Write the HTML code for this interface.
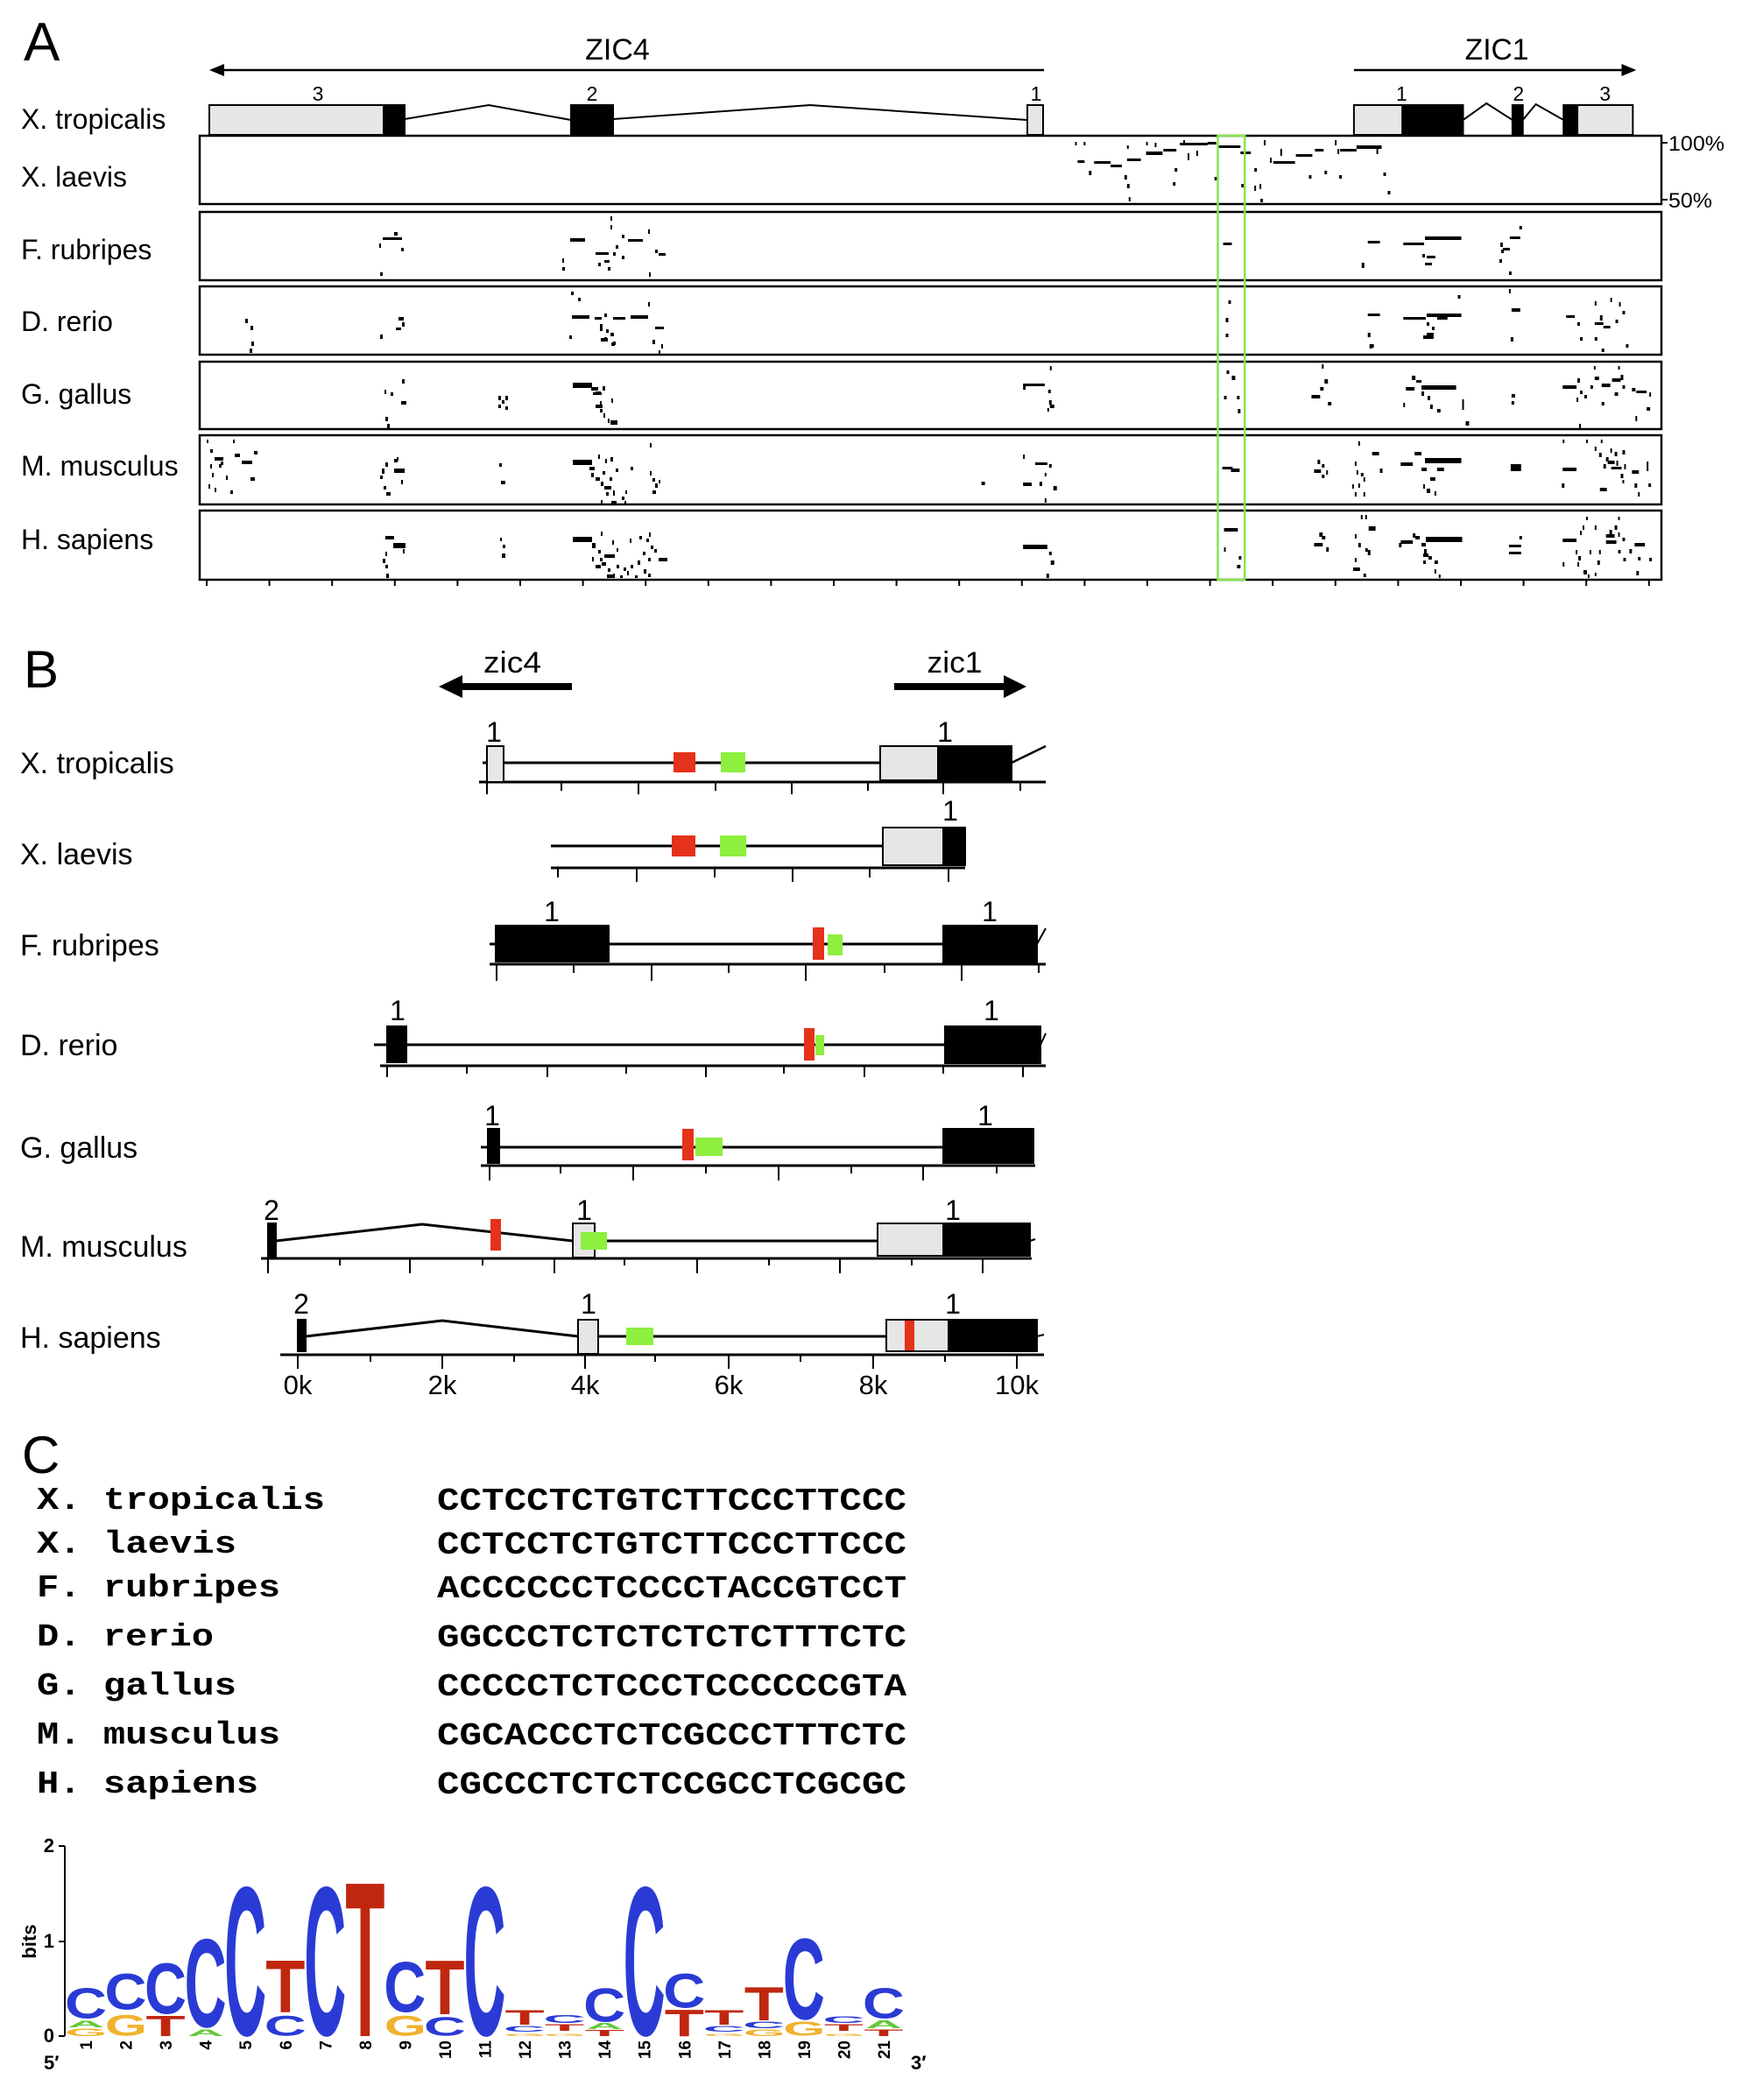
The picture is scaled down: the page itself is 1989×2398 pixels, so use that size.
<!DOCTYPE html>
<html><head><meta charset="utf-8"><style>
html,body{margin:0;padding:0;background:#fff;}
svg{display:block;}
text{font-family:"Liberation Sans",Arial,sans-serif;}
.mono text{font-family:"Liberation Mono","Courier New",monospace;font-weight:bold;}
.lg text{font-family:"Liberation Sans",Arial,sans-serif;font-weight:bold;font-size:100px;}
</style></head><body>
<svg width="1989" height="2398" viewBox="0 0 1989 2398" xmlns="http://www.w3.org/2000/svg">
<rect width="1989" height="2398" fill="#fff"/>

<!-- ================= PANEL A ================= -->
<text x="27" y="69" font-size="62">A</text>
<text x="705" y="68" font-size="34" text-anchor="middle">ZIC4</text>
<line x1="250" y1="80" x2="1192" y2="80" stroke="#000" stroke-width="2.5"/>
<polygon points="239,80 256,73 256,87" fill="#000"/>

<g font-size="23" text-anchor="middle">
<text x="363" y="115">3</text><text x="676" y="115">2</text><text x="1183" y="115">1</text>
</g>
<g stroke="#000" stroke-width="2" fill="none">
<polyline points="462,136 558,120 652,137"/>
<polyline points="700,136 925,120 1173,137"/>
</g>
<g stroke="#000" stroke-width="2">
<rect x="239" y="120" width="199" height="34" fill="#e6e6e6"/>
<rect x="438" y="120" width="24" height="34" fill="#000"/>
<rect x="652" y="120" width="48" height="34" fill="#000"/>
<rect x="1173" y="120" width="18" height="34" fill="#e6e6e6"/>
</g>

<g transform="translate(11.04,0) scale(0.98896,1)">
<text x="1717" y="68" font-size="34" text-anchor="middle">ZIC1</text>
<line x1="1552" y1="80" x2="1866" y2="80" stroke="#000" stroke-width="2.5"/>
<polygon points="1878,80 1861,73 1861,87" fill="#000"/>
<g font-size="23" text-anchor="middle">
<text x="1607" y="115">1</text><text x="1742" y="115">2</text><text x="1842" y="115">3</text>
</g>
<g stroke="#000" stroke-width="2" fill="none">
<polyline points="1678,137 1705,118 1735,137"/>
<polyline points="1747,137 1762,119 1794,137"/>
</g>
<g stroke="#000" stroke-width="2">
<rect x="1552" y="120" width="56" height="34" fill="#e6e6e6"/>
<rect x="1608" y="120" width="70" height="34" fill="#000"/>
<rect x="1735" y="120" width="12" height="34" fill="#000"/>
<rect x="1794" y="120" width="16" height="34" fill="#000"/>
<rect x="1810" y="120" width="64" height="34" fill="#e6e6e6"/>
</g>
</g>

<g font-size="32">
<text x="24" y="147">X. tropicalis</text>
<text x="24" y="213">X. laevis</text>
<text x="24" y="296">F. rubripes</text>
<text x="24" y="378">D. rerio</text>
<text x="24" y="461">G. gallus</text>
<text x="24" y="543">M. musculus</text>
<text x="24" y="627">H. sapiens</text>
</g>

<g fill="none" stroke="#000" stroke-width="2.5">
<rect x="228" y="155" width="1669" height="78"/>
<rect x="228" y="242" width="1669" height="78"/>
<rect x="228" y="327" width="1669" height="78"/>
<rect x="228" y="413" width="1669" height="77"/>
<rect x="228" y="497" width="1669" height="79"/>
<rect x="228" y="583" width="1669" height="79"/>
</g>
<g stroke="#000" stroke-width="2">
<line x1="1897" y1="163" x2="1904" y2="163"/>
<line x1="1897" y1="228" x2="1904" y2="228"/>
</g>
<text x="1905" y="172" font-size="24" textLength="64" lengthAdjust="spacingAndGlyphs">100%</text>
<text x="1905" y="237" font-size="24" textLength="50" lengthAdjust="spacingAndGlyphs">50%</text>

<path stroke="#000" stroke-width="2" d="M236 662v7M307.6 662v7M379.2 662v7M450.8 662v7M522.4 662v7M594 662v7M665.6 662v7M737.2 662v7M808.8 662v7M880.4 662v7M952 662v7M1023.6 662v7M1095.2 662v7M1166.8 662v7M1238.4 662v7M1310 662v7M1381.6 662v7M1453.2 662v7M1524.8 662v7M1596.4 662v7M1668 662v7M1739.6 662v7M1811.2 662v7M1882.8 662v7"/>

<g fill="#000">
<path d="M437 271h22v3h-22zM450 265h4v4h-4zM433 278h2v5h-2zM458 283h3v4h-3zM434 311h3v4h-3zM651 272h17v4h-17zM642 295h2v5h-2zM642 305h3v4h-3zM697 247h2v5h-2zM697 257h2v5h-2zM710 268h3v4h-3zM717 273h17v3h-17zM740 262h2v5h-2zM748 285h3v4h-3zM752 289h8v3h-8zM680 288h15v3h-15zM683 300h3v4h-3zM690 297h6v3h-6zM694 305h3v4h-3zM700 288h3v4h-3zM703 280h3v4h-3zM710 292h3v4h-3zM741 311h2v5h-2z"/>
<path d="M280 364h3v5h-3zM286 372h3v5h-3zM287 390h3v5h-3zM285 398h3v5h-3zM434 382h3v5h-3zM455 362h6v4h-6zM459 368h3v5h-3zM452 374h6v3h-6zM653 360h20v4h-20zM652 333h3v4h-3zM660 340h3v4h-3zM679 362h8v3h-8zM690 358h3v4h-3zM700 362h14v3h-14zM720 360h20v4h-20zM740 345h2v5h-2zM748 373h10v3h-10zM685 370h3v8h-3zM692 376h3v4h-3zM697 380h4v4h-4zM690 385h3v4h-3zM700 390h3v4h-3zM745 388h3v5h-3zM755 393h2v5h-2zM752 400h2v5h-2zM650 383h3v4h-3zM686 386h8v4h-8zM698 391h4v4h-4z"/>
<path d="M459 433h3v5h-3zM439 445h2v5h-2zM446 448h3v4h-3zM458 458h6v4h-6zM440 476h3v5h-3zM442 484h3v5h-3zM569 452h3v5h-3zM577 452h3v5h-3zM569 462h3v4h-3zM577 464h3v4h-3zM573 457h3v4h-3zM654 437h22v6h-22zM675 442h8v4h-8zM680 447h6v4h-6zM688 441h3v5h-3zM677 448h10v3h-10zM685 458h2v5h-2zM698 455h2v5h-2zM680 462h8v4h-8zM685 467h3v4h-3zM689 472h2v5h-2zM694 478h2v5h-2zM697 480h8v5h-8z"/>
<path d="M236 502h2v4h-2zM266 502h2v4h-2zM240 513h3v4h-3zM245 522h10v4h-10zM250 530h3v4h-3zM268 518h6v4h-6zM276 526h12v4h-12zM290 515h4v4h-4zM286 545h5v4h-5zM238 553h2v5h-2zM245 557h2v5h-2zM263 560h3v4h-3zM240 530h2v5h-2zM258 543h2v5h-2zM242 540h2v5h-2zM252 527h3v4h-3zM450 524h4v4h-4zM436 535h3v6h-3zM434 543h3v4h-3zM450 535h12v5h-12zM440 528h3v5h-3zM438 555h3v4h-3zM441 562h5v4h-5zM458 548h2v5h-2zM453 522h2v4h-2zM570 529h3v4h-3zM572 549h5v4h-5zM654 525h22v6h-22zM673 533h6v4h-6zM683 519h2v5h-2zM691 524h2v5h-2zM697 522h3v5h-3zM675 540h3v5h-3zM680 545h5v4h-5zM688 538h3v4h-3zM686 550h3v5h-3zM696 545h3v4h-3zM703 535h3v4h-3zM690 555h8v4h-8zM692 562h3v4h-3zM700 560h2v6h-2zM710 567h3v4h-3zM714 560h2v4h-2zM720 533h3v4h-3zM686 571h2v5h-2zM698 572h6v4h-6zM713 572h2v4h-2zM742 506h2v5h-2zM742 538h2v5h-2zM745 546h3v4h-3zM748 552h3v5h-3zM745 560h4v4h-4zM752 548h2v4h-2z"/>
<path d="M440 612h10v4h-10zM449 620h14v6h-14zM460 627h2v5h-2zM440 630h2v5h-2zM437 638h3v5h-3zM440 645h3v4h-3zM441 655h3v5h-3zM571 614h2v4h-2zM574 622h3v4h-3zM573 632h4v5h-4zM654 613h22v6h-22zM676 620h4v6h-4zM686 607h2v5h-2zM699 617h2v5h-2zM704 626h2v4h-2zM719 615h2v5h-2zM730 612h3v4h-3zM741 608h2v5h-2zM738 615h3v4h-3zM743 623h3v4h-3zM734 630h3v4h-3zM747 627h3v4h-3zM740 637h3v4h-3zM728 640h3v5h-3zM720 645h3v4h-3zM752 637h10v4h-10zM683 628h3v4h-3zM690 633h12v4h-12zM685 637h3v4h-3zM676 636h2v5h-2zM687 642h5v4h-5zM680 645h6v4h-6zM694 649h3v4h-3zM704 645h3v4h-3zM712 648h3v4h-3zM700 655h2v5h-2zM716 652h2v5h-2zM693 656h8v4h-8zM735 650h3v5h-3zM740 655h3v4h-3zM725 657h3v3h-3zM708 657h3v3h-3z"/>
</g>
<g fill="#000" transform="translate(11.04,0) scale(0.98896,1)">
<path d="M1230 162h2v4h-2zM1240 162h2v4h-2zM1233 183h8v3h-8zM1252 184h19v3h-19zM1271 188h13v3h-13zM1290 181h16v3h-16zM1312 173h19v4h-19zM1332 170h15v3h-15zM1351 163h32v3h-32zM1383 162h10v3h-10zM1395 166h26v3h-26zM1421 173h12v3h-12zM1459 184h25v3h-25zM1485 176h19v3h-19zM1507 170h10v3h-10zM1536 170h19v3h-19zM1555 166h29v4h-29zM1246 195h3v5h-3zM1287 200h3v5h-3zM1290 210h3v5h-3zM1292 225h2v5h-2zM1345 192h3v4h-3zM1343 208h3v4h-3zM1391 202h3v4h-3zM1422 210h3v4h-3zM1437 212h2v6h-2zM1443 210h2v6h-2zM1444 227h3v4h-3zM1437 192h3v4h-3zM1455 180h2v6h-2zM1500 200h3v4h-3zM1518 195h3v4h-3zM1535 200h3v4h-3zM1586 197h3v4h-3zM1591 218h3v4h-3zM1578 170h2v6h-2zM1290 166h2v4h-2zM1312 162h2v4h-2zM1322 163h2v5h-2zM1355 160h2v6h-2zM1448 160h2v6h-2zM1467 170h2v8h-2zM1530 160h2v6h-2zM1533 170h2v6h-2zM1360 175h2v8h-2zM1370 172h2v6h-2z"/>
<path d="M1401 277h10v3h-10zM1568 275h14v3h-14zM1561 300h3v6h-3zM1609 277h24v3h-24zM1634 270h42v4h-42zM1631 290h3v4h-3zM1636 292h10v3h-10zM1634 300h8v3h-8zM1721 277h3v5h-3zM1724 283h8v3h-8zM1732 270h12v3h-12zM1743 258h3v4h-3zM1720 296h3v4h-3zM1731 310h3v4h-3zM1722 285h3v4h-3z"/>
<path d="M1407 343h3v4h-3zM1404 363h3v5h-3zM1404 381h3v4h-3zM1568 358h14v3h-14zM1568 380h3v5h-3zM1570 393h3v5h-3zM1609 362h26v3h-26zM1636 358h40v4h-40zM1672 337h3v4h-3zM1636 368h3v4h-3zM1642 373h3v4h-3zM1636 380h8v4h-8zM1648 362h12v3h-12zM1731 330h2v5h-2zM1734 352h10v4h-10zM1733 385h3v5h-3zM1797 360h10v3h-10zM1810 368h3v4h-3zM1830 368h10v3h-10zM1836 360h3v6h-3zM1840 372h8v3h-8zM1830 344h2v5h-2zM1848 340h2v5h-2zM1858 345h2v5h-2zM1862 355h3v4h-3zM1854 365h3v4h-3zM1813 385h3v4h-3zM1830 385h3v4h-3zM1838 398h3v4h-3zM1866 393h3v4h-3zM1572 393h3v4h-3zM1632 383h12v4h-12z"/>
<path d="M1201 418h2v5h-2zM1170 438h25v3h-25zM1170 441h3v4h-3zM1199 445h3v4h-3zM1200 457h3v5h-3zM1201 462h5v4h-5zM1198 466h2v4h-2zM1405 423h3v4h-3zM1411 429h4v5h-4zM1402 452h3v4h-3zM1417 452h3v4h-3zM1418 467h3v5h-3zM1515 416h2v5h-2zM1518 433h4v5h-4zM1513 442h4v4h-4zM1503 451h10v4h-10zM1522 459h4v4h-4zM1612 442h10v4h-10zM1619 429h4v5h-4zM1624 434h6v3h-6zM1630 440h40v5h-40zM1630 447h3v5h-3zM1637 452h3v5h-3zM1640 462h3v5h-3zM1648 467h4v4h-4zM1609 460h2v5h-2zM1677 456h2v6h-2zM1677 462h2v6h-2zM1681 481h4v5h-4zM1734 450h4v4h-4zM1734 458h3v4h-3zM1793 440h16v4h-16zM1810 432h3v5h-3zM1813 446h3v4h-3zM1818 451h3v4h-3zM1825 440h3v4h-3zM1830 430h5v4h-5zM1838 438h10v4h-10zM1850 432h10v4h-10zM1860 428h3v6h-3zM1853 448h4v4h-4zM1862 440h3v4h-3zM1873 443h4v4h-4zM1878 446h12v3h-12zM1893 448h2v5h-2zM1890 465h4v4h-4zM1877 475h2v6h-2zM1838 459h3v4h-3zM1809 454h2v5h-2zM1829 418h2v4h-2zM1857 418h2v4h-2zM1812 484h2v5h-2z"/>
<path d="M1170 519h2v5h-2zM1184 528h14v3h-14zM1200 530h3v4h-3zM1195 540h2v4h-2zM1189 550h3v5h-3zM1170 551h10v4h-10zM1205 555h4v5h-4zM1195 569h2v5h-2zM1122 550h4v4h-4zM1400 533h12v3h-12zM1410 535h10v4h-10zM1557 504h2v5h-2zM1573 516h8v4h-8zM1510 525h3v5h-3zM1515 530h3v4h-3zM1506 536h8v4h-8zM1515 542h3v4h-3zM1520 537h2v5h-2zM1553 527h2v5h-2zM1555 537h2v5h-2zM1560 540h3v4h-3zM1563 545h2v5h-2zM1582 535h3v5h-3zM1550 553h2v5h-2zM1557 552h2v5h-2zM1553 562h2v5h-2zM1563 562h2v5h-2zM1606 528h14v4h-14zM1622 516h8v4h-8zM1634 523h42v6h-42zM1630 534h6v4h-6zM1648 534h8v4h-8zM1640 545h6v4h-6zM1632 553h2v5h-2zM1636 558h4v5h-4zM1645 561h2v5h-2zM1733 530h12v8h-12zM1793 534h16v4h-16zM1792 552h3v5h-3zM1836 557h8v4h-8zM1830 510h2v5h-2zM1835 517h3v5h-3zM1843 522h3v5h-3zM1848 512h2v5h-2zM1853 516h3v5h-3zM1862 514h3v5h-3zM1840 530h3v5h-3zM1845 526h8v4h-8zM1855 526h2v6h-2zM1864 530h2v6h-2zM1849 533h12v3h-12zM1873 537h8v4h-8zM1890 527h2v5h-2zM1890 532h2v6h-2zM1860 541h3v5h-3zM1862 548h2v4h-2zM1876 552h3v5h-3zM1892 552h3v4h-3zM1880 562h2v5h-2zM1793 502h2v4h-2zM1820 502h2v4h-2zM1837 502h2v4h-2z"/>
<path d="M1170 622h28v5h-28zM1200 630h3v4h-3zM1202 640h4v5h-4zM1197 655h3v5h-3zM1402 603h16v4h-16zM1402 625h2v5h-2zM1419 635h3v4h-3zM1417 645h4v4h-4zM1512 608h4v5h-4zM1515 612h4v4h-4zM1506 620h10v4h-10zM1520 625h3v5h-3zM1560 588h2v5h-2zM1565 588h2v5h-2zM1569 601h8v5h-8zM1553 610h2v5h-2zM1557 620h3v5h-3zM1565 626h3v4h-3zM1568 628h3v6h-3zM1553 637h2v5h-2zM1551 648h8v4h-8zM1563 655h3v4h-3zM1606 617h14v4h-14zM1604 620h3v5h-3zM1620 609h3v5h-3zM1623 612h5v4h-5zM1635 613h42v6h-42zM1630 620h5v4h-5zM1633 627h3v5h-3zM1632 632h6v4h-6zM1638 635h4v4h-4zM1632 640h3v4h-3zM1645 640h4v4h-4zM1645 650h2v5h-2zM1650 656h2v4h-2zM1743 612h3v4h-3zM1731 622h14v3h-14zM1731 630h14v3h-14zM1793 615h16v4h-16zM1813 606h2v5h-2zM1816 600h2v5h-2zM1808 628h2v5h-2zM1811 635h3v5h-3zM1810 642h2v5h-2zM1824 628h2v5h-2zM1835 628h2v5h-2zM1833 640h3v5h-3zM1830 600h2v5h-2zM1843 610h10v4h-10zM1847 605h3v5h-3zM1853 600h3v5h-3zM1857 608h2v5h-2zM1862 614h3v4h-3zM1843 617h12v4h-12zM1857 628h3v4h-3zM1863 637h3v4h-3zM1870 627h3v5h-3zM1876 620h12v4h-12zM1880 636h3v4h-3zM1893 637h3v4h-3zM1793 642h2v5h-2zM1817 651h4v5h-4zM1822 656h2v4h-2zM1830 654h2v4h-2zM1878 652h3v5h-3zM1820 590h2v4h-2zM1857 590h2v4h-2z"/>
</g>
<rect x="1390.5" y="155" width="30.7" height="507" fill="none" stroke="#86e84e" stroke-width="2.5"/>

<!-- ================= PANEL B ================= -->
<text x="27" y="785" font-size="60">B</text>
<text x="585" y="768" font-size="34" text-anchor="middle" textLength="66" lengthAdjust="spacingAndGlyphs">zic4</text>
<text x="1090" y="768" font-size="34" text-anchor="middle" textLength="63" lengthAdjust="spacingAndGlyphs">zic1</text>
<polygon points="501,784 528,771 528,780 653,780 653,788 528,788 528,797" fill="#000"/>
<polygon points="1172,784 1146,771 1146,780 1021,780 1021,788 1146,788 1146,797" fill="#000"/>

<g font-size="34">
<text x="23" y="883">X. tropicalis</text>
<text x="23" y="987">X. laevis</text>
<text x="23" y="1091">F. rubripes</text>
<text x="23" y="1205">D. rerio</text>
<text x="23" y="1322">G. gallus</text>
<text x="23" y="1435">M. musculus</text>
<text x="23" y="1539">H. sapiens</text>
</g>

<g font-size="32" text-anchor="middle">
<text x="564" y="847">1</text><text x="1079" y="847">1</text>
<text x="1085" y="937">1</text>
<text x="630" y="1052">1</text><text x="1130" y="1052">1</text>
<text x="454" y="1165">1</text><text x="1132" y="1165">1</text>
<text x="562" y="1285">1</text><text x="1125" y="1285">1</text>
<text x="310" y="1393">2</text><text x="667" y="1393">1</text><text x="1088" y="1393">1</text>
<text x="344" y="1500">2</text><text x="672" y="1500">1</text><text x="1088" y="1500">1</text>
</g>

<g stroke="#000" stroke-width="3" fill="none">
<line x1="551" y1="871" x2="1005" y2="871"/>
<line x1="1155" y1="871" x2="1194" y2="852" stroke-width="2.5"/>
<line x1="547" y1="893" x2="1194" y2="893"/>
<line x1="629" y1="966" x2="1008" y2="966"/>
<line x1="629" y1="991" x2="1102" y2="991"/>
<line x1="559" y1="1078" x2="1077" y2="1078"/>
<line x1="1184" y1="1078" x2="1194" y2="1060" stroke-width="2"/>
<line x1="559" y1="1101" x2="1194" y2="1101"/>
<line x1="427" y1="1193" x2="1079" y2="1193"/>
<line x1="1188" y1="1193" x2="1194" y2="1180" stroke-width="2"/>
<line x1="434" y1="1217" x2="1194" y2="1217"/>
<line x1="549" y1="1310" x2="1077" y2="1310"/>
<line x1="549" y1="1331" x2="1182" y2="1331"/>
<polyline points="315,1417 482,1398 654,1417"/>
<line x1="679" y1="1417" x2="1002" y2="1417"/>
<line x1="1176" y1="1417" x2="1182" y2="1415" stroke-width="2"/>
<line x1="298" y1="1437" x2="1178" y2="1437"/>
<polyline points="349,1526 505,1508 660,1526"/>
<line x1="683" y1="1526" x2="1012" y2="1526"/>
<line x1="1184" y1="1526" x2="1192" y2="1524" stroke-width="2"/>
<line x1="320" y1="1547" x2="1192" y2="1547"/>
</g>
<path stroke="#000" stroke-width="2" d="M556 893v14M641 893v10M729 893v14M817 893v10M904 893v14M991 893v10M1077 893v14M1165 893v10
M637 991v11M727 991v16M816 991v11M905 991v16M993 991v11M1083 991v16
M567 1101v19M655 1101v10M744 1101v19M832 1101v10M920 1101v19M1010 1101v10M1098 1101v19M1186 1101v10
M442 1217v13M533 1217v9M625 1217v13M715 1217v9M806 1217v13M895 1217v9M987 1217v13M1077 1217v9M1168 1217v13
M559 1331v17M640 1331v9M723 1331v17M806 1331v9M889 1331v17M972 1331v9M1054 1331v17M1138 1331v9
M306 1437v17M388 1437v8M468 1437v17M551 1437v8M633 1437v17M713 1437v8M796 1437v17M878 1437v8M959 1437v17M1041 1437v8M1122 1437v17
M340 1547v16M423 1547v8M505 1547v16M587 1547v8M668 1547v16M748 1547v8M832 1547v16M914 1547v8M997 1547v16M1079 1547v8M1161 1547v16"/>

<g stroke="#000" stroke-width="2">
<rect x="556" y="852" width="19" height="41" fill="#e6e6e6"/>
<rect x="1005" y="852" width="66" height="39" fill="#e6e6e6"/>
<rect x="1071" y="852" width="84" height="39" fill="#000"/>
<rect x="1008" y="945" width="69" height="43" fill="#e6e6e6"/>
<rect x="1077" y="945" width="25" height="43" fill="#000"/>
<rect x="566" y="1057" width="129" height="41" fill="#000"/>
<rect x="1077" y="1057" width="107" height="42" fill="#000"/>
<rect x="442" y="1172" width="22" height="41" fill="#000"/>
<rect x="1079" y="1172" width="109" height="42" fill="#000"/>
<rect x="557" y="1289" width="13" height="39" fill="#000"/>
<rect x="1077" y="1289" width="103" height="39" fill="#000"/>
<rect x="306" y="1397" width="9" height="40" fill="#000"/>
<rect x="654" y="1397" width="25" height="39" fill="#e6e6e6"/>
<rect x="1002" y="1397" width="75" height="37" fill="#e6e6e6"/>
<rect x="1077" y="1397" width="99" height="37" fill="#000"/>
<rect x="340" y="1507" width="9" height="36" fill="#000"/>
<rect x="660" y="1507" width="23" height="39" fill="#e6e6e6"/>
<rect x="1012" y="1507" width="71" height="36" fill="#e6e6e6"/>
<rect x="1083" y="1507" width="101" height="36" fill="#000"/>
</g>
<g fill="#e5321a">
<rect x="769" y="859" width="25" height="23"/>
<rect x="767" y="954" width="27" height="24"/>
<rect x="928" y="1059" width="13" height="37"/>
<rect x="918" y="1174" width="12" height="37"/>
<rect x="779" y="1289" width="13" height="36"/>
<rect x="560" y="1392" width="12" height="36"/>
<rect x="1033" y="1508" width="11" height="34"/>
</g>
<g fill="#8def3e">
<rect x="823" y="859" width="28" height="23"/>
<rect x="822" y="954" width="30" height="24"/>
<rect x="945" y="1067" width="17" height="24"/>
<rect x="931" y="1182" width="10" height="23"/>
<rect x="794" y="1299" width="31" height="21"/>
<rect x="663" y="1407" width="30" height="20"/>
<rect x="715" y="1516" width="31" height="20"/>
</g>
<g font-size="31" text-anchor="middle">
<text x="340" y="1592">0k</text><text x="505" y="1592">2k</text><text x="668" y="1592">4k</text>
<text x="832" y="1592">6k</text><text x="997" y="1592">8k</text><text x="1161" y="1592">10k</text>
</g>

<!-- ================= PANEL C ================= -->
<text x="25" y="1682" font-size="60">C</text>
<g class="mono" font-size="36">
<text x="42" y="1723" textLength="329" lengthAdjust="spacingAndGlyphs">X. tropicalis</text>
<text x="42" y="1773" textLength="228" lengthAdjust="spacingAndGlyphs">X. laevis</text>
<text x="42" y="1823" textLength="278" lengthAdjust="spacingAndGlyphs">F. rubripes</text>
<text x="42" y="1879" textLength="202" lengthAdjust="spacingAndGlyphs">D. rerio</text>
<text x="42" y="1935" textLength="228" lengthAdjust="spacingAndGlyphs">G. gallus</text>
<text x="42" y="1991" textLength="278" lengthAdjust="spacingAndGlyphs">M. musculus</text>
<text x="42" y="2047" textLength="253" lengthAdjust="spacingAndGlyphs">H. sapiens</text>
<text x="499" y="1724" textLength="536" lengthAdjust="spacingAndGlyphs">CCTCCTCTGTCTTCCCTTCCC</text>
<text x="499" y="1774" textLength="536" lengthAdjust="spacingAndGlyphs">CCTCCTCTGTCTTCCCTTCCC</text>
<text x="499" y="1824" textLength="536" lengthAdjust="spacingAndGlyphs">ACCCCCCTCCCCTACCGTCCT</text>
<text x="499" y="1880" textLength="536" lengthAdjust="spacingAndGlyphs">GGCCCTCTCTCTCTCTTTCTC</text>
<text x="499" y="1936" textLength="536" lengthAdjust="spacingAndGlyphs">CCCCCTCTCCCTCCCCCCGTA</text>
<text x="499" y="1992" textLength="536" lengthAdjust="spacingAndGlyphs">CGCACCCTCTCGCCCTTTCTC</text>
<text x="499" y="2048" textLength="536" lengthAdjust="spacingAndGlyphs">CGCCCTCTCTCCGCCTCGCGC</text>
</g>

<!-- sequence logo -->
<g stroke="#000" stroke-width="2">
<line x1="74" y1="2108" x2="74" y2="2325"/>
<line x1="67" y1="2108" x2="74" y2="2108"/>
<line x1="67" y1="2217" x2="74" y2="2217"/>
<line x1="67" y1="2325" x2="74" y2="2325"/>
</g>
<g font-weight="bold" font-size="22">
<text x="62" y="2115" text-anchor="end">2</text>
<text x="62" y="2224" text-anchor="end">1</text>
<text x="62" y="2332" text-anchor="end">0</text>
<text transform="translate(41,2217) rotate(-90)" text-anchor="middle">bits</text>
<text x="50" y="2363">5′</text>
<text x="1040" y="2363">3′</text>
</g>
<g font-weight="bold" font-size="19" text-anchor="end">
<text transform="translate(105,2330) rotate(-90)">1</text>
<text transform="translate(150.6,2330) rotate(-90)">2</text>
<text transform="translate(196.1,2330) rotate(-90)">3</text>
<text transform="translate(241.7,2330) rotate(-90)">4</text>
<text transform="translate(287.2,2330) rotate(-90)">5</text>
<text transform="translate(332.8,2330) rotate(-90)">6</text>
<text transform="translate(378.3,2330) rotate(-90)">7</text>
<text transform="translate(423.9,2330) rotate(-90)">8</text>
<text transform="translate(469.4,2330) rotate(-90)">9</text>
<text transform="translate(515,2330) rotate(-90)">10</text>
<text transform="translate(560.5,2330) rotate(-90)">11</text>
<text transform="translate(606.1,2330) rotate(-90)">12</text>
<text transform="translate(651.6,2330) rotate(-90)">13</text>
<text transform="translate(697.2,2330) rotate(-90)">14</text>
<text transform="translate(742.7,2330) rotate(-90)">15</text>
<text transform="translate(788.3,2330) rotate(-90)">16</text>
<text transform="translate(833.8,2330) rotate(-90)">17</text>
<text transform="translate(879.4,2330) rotate(-90)">18</text>
<text transform="translate(924.9,2330) rotate(-90)">19</text>
<text transform="translate(970.5,2330) rotate(-90)">20</text>
<text transform="translate(1016,2330) rotate(-90)">21</text>
</g>
<g class="lg">
<text transform="translate(73.94,2304.4) scale(0.6646,0.4933)" fill="#2a3bd5">C</text>
<text transform="translate(77,2315) scale(0.5833,0.1117)" fill="#64c83a">A</text>
<text transform="translate(74.28,2324.9) scale(0.6176,0.12)" fill="#f1b22e">G</text>
<text transform="translate(119.5,2294.3) scale(0.6646,0.5867)" fill="#2a3bd5">C</text>
<text transform="translate(119.9,2324.6) scale(0.6176,0.3467)" fill="#f1b22e">G</text>
<text transform="translate(165.0,2299) scale(0.6646,0.8267)" fill="#2a3bd5">C</text>
<text transform="translate(166.5,2325) scale(0.7394,0.3352)" fill="#c0270f">T</text>
<text transform="translate(210.6,2314.3) scale(0.6646,1.44)" fill="#2a3bd5">C</text>
<text transform="translate(213.7,2325) scale(0.5833,0.1117)" fill="#64c83a">A</text>
<text transform="translate(256.1,2323.5) scale(0.6646,2.4267)" fill="#2a3bd5">C</text>
<text transform="translate(303.2,2298) scale(0.7394,0.852)" fill="#c0270f">T</text>
<text transform="translate(301.7,2324.6) scale(0.6646,0.32)" fill="#2a3bd5">C</text>
<text transform="translate(347.2,2323.5) scale(0.6646,2.4267)" fill="#2a3bd5">C</text>
<text transform="translate(394.3,2325) scale(0.7394,2.528)" fill="#c0270f">T</text>
<text transform="translate(438.3,2297) scale(0.6646,0.8133)" fill="#2a3bd5">C</text>
<text transform="translate(438.7,2324.6) scale(0.6176,0.32)" fill="#f1b22e">G</text>
<text transform="translate(485.4,2300) scale(0.7394,0.88)" fill="#c0270f">T</text>
<text transform="translate(483.9,2324.6) scale(0.6646,0.3067)" fill="#2a3bd5">C</text>
<text transform="translate(529.4,2323.5) scale(0.6646,2.4267)" fill="#2a3bd5">C</text>
<text transform="translate(576.5,2312) scale(0.7394,0.2374)" fill="#c0270f">T</text>
<text transform="translate(575.0,2319.9) scale(0.6646,0.0933)" fill="#2a3bd5">C</text>
<text transform="translate(575.4,2325) scale(0.6176,0.04)" fill="#f1b22e">G</text>
<text transform="translate(620.5,2309.8) scale(0.6646,0.1333)" fill="#2a3bd5">C</text>
<text transform="translate(622.0,2319) scale(0.7394,0.1117)" fill="#c0270f">T</text>
<text transform="translate(620.9,2325) scale(0.6176,0.04)" fill="#f1b22e">G</text>
<text transform="translate(666.1,2308.3) scale(0.6646,0.5467)" fill="#2a3bd5">C</text>
<text transform="translate(669.2,2317) scale(0.5833,0.0978)" fill="#64c83a">A</text>
<text transform="translate(667.6,2325) scale(0.7394,0.0978)" fill="#c0270f">T</text>
<text transform="translate(711.6,2323.5) scale(0.6646,2.4267)" fill="#2a3bd5">C</text>
<text transform="translate(757.2,2292.3) scale(0.6646,0.56)" fill="#2a3bd5">C</text>
<text transform="translate(758.7,2325) scale(0.7394,0.433)" fill="#c0270f">T</text>
<text transform="translate(804.2,2312) scale(0.7394,0.2374)" fill="#c0270f">T</text>
<text transform="translate(802.7,2319.9) scale(0.6646,0.0933)" fill="#2a3bd5">C</text>
<text transform="translate(803.1,2325) scale(0.6176,0.04)" fill="#f1b22e">G</text>
<text transform="translate(849.8,2307) scale(0.7394,0.5447)" fill="#c0270f">T</text>
<text transform="translate(848.3,2315.9) scale(0.6646,0.1067)" fill="#2a3bd5">C</text>
<text transform="translate(848.7,2324.9) scale(0.6176,0.1067)" fill="#f1b22e">G</text>
<text transform="translate(893.8,2305.4) scale(0.6646,1.32)" fill="#2a3bd5">C</text>
<text transform="translate(894.2,2324.7) scale(0.6176,0.2267)" fill="#f1b22e">G</text>
<text transform="translate(939.4,2309.9) scale(0.6646,0.1067)" fill="#2a3bd5">C</text>
<text transform="translate(940.9,2319) scale(0.7394,0.1117)" fill="#c0270f">T</text>
<text transform="translate(939.8,2325) scale(0.6176,0.04)" fill="#f1b22e">G</text>
<text transform="translate(984.9,2304.4) scale(0.6646,0.4933)" fill="#2a3bd5">C</text>
<text transform="translate(988,2316) scale(0.5833,0.1257)" fill="#64c83a">A</text>
<text transform="translate(986.4,2325) scale(0.7394,0.1117)" fill="#c0270f">T</text>
</g>
</svg>
</body></html>
